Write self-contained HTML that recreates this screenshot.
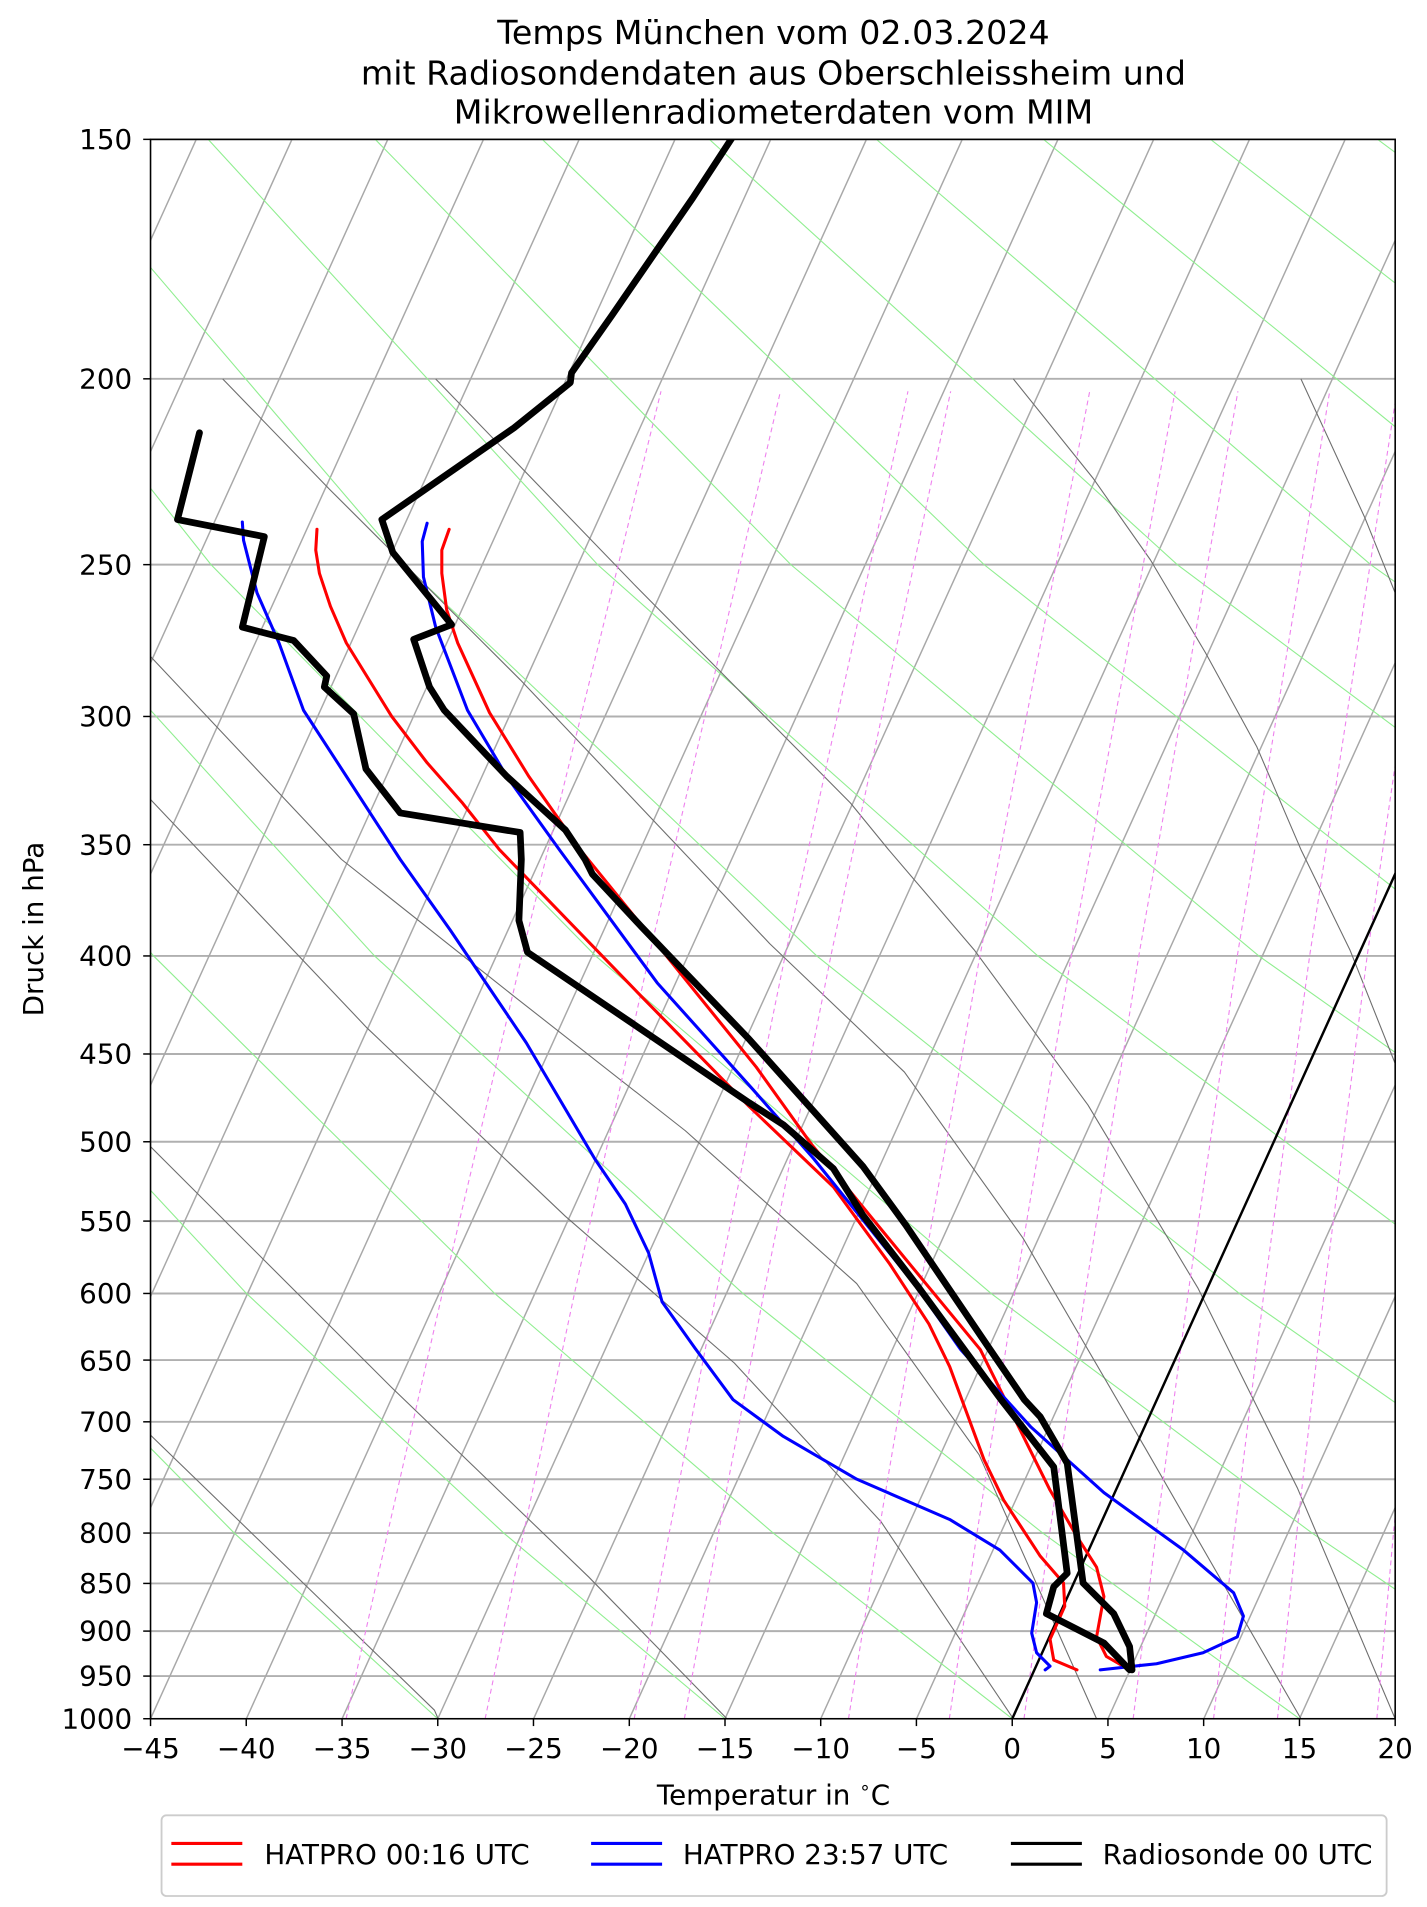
<!DOCTYPE html>
<html><head><meta charset="utf-8"><style>html,body{margin:0;padding:0;background:#fff}svg{display:block}</style></head>
<body>
<svg xmlns="http://www.w3.org/2000/svg" width="1427" height="1907" viewBox="0 0 1166 1560" preserveAspectRatio="none" font-family="DejaVu Sans, Liberation Sans, sans-serif">
<defs><clipPath id="c"><rect x="123" y="114" width="1017" height="1292"/></clipPath></defs>
<rect width="1166" height="1560" fill="#fff"/>
<g clip-path="url(#c)" fill="none">
<g stroke="#b0b0b0" stroke-width="1.6">
<line x1="123" x2="1140" y1="114" y2="114"/><line x1="123" x2="1140" y1="309.9" y2="309.9"/><line x1="123" x2="1140" y1="461.9" y2="461.9"/><line x1="123" x2="1140" y1="586.1" y2="586.1"/><line x1="123" x2="1140" y1="691" y2="691"/><line x1="123" x2="1140" y1="782" y2="782"/><line x1="123" x2="1140" y1="862.2" y2="862.2"/><line x1="123" x2="1140" y1="934" y2="934"/><line x1="123" x2="1140" y1="998.9" y2="998.9"/><line x1="123" x2="1140" y1="1058.1" y2="1058.1"/><line x1="123" x2="1140" y1="1112.6" y2="1112.6"/><line x1="123" x2="1140" y1="1163.1" y2="1163.1"/><line x1="123" x2="1140" y1="1210.1" y2="1210.1"/><line x1="123" x2="1140" y1="1254.1" y2="1254.1"/><line x1="123" x2="1140" y1="1295.3" y2="1295.3"/><line x1="123" x2="1140" y1="1334.3" y2="1334.3"/><line x1="123" x2="1140" y1="1371.1" y2="1371.1"/>
</g>
<g stroke="#a8a8a8" stroke-width="1.2">
<line x1="-424.6" y1="1406" x2="160.4" y2="114"/><line x1="-346.4" y1="1406" x2="238.6" y2="114"/><line x1="-268.1" y1="1406" x2="316.9" y2="114"/><line x1="-189.9" y1="1406" x2="395.1" y2="114"/><line x1="-111.7" y1="1406" x2="473.3" y2="114"/><line x1="-33.4" y1="1406" x2="551.6" y2="114"/><line x1="44.8" y1="1406" x2="629.8" y2="114"/><line x1="123" y1="1406" x2="708" y2="114"/><line x1="201.3" y1="1406" x2="786.3" y2="114"/><line x1="279.5" y1="1406" x2="864.5" y2="114"/><line x1="357.7" y1="1406" x2="942.7" y2="114"/><line x1="436" y1="1406" x2="1021" y2="114"/><line x1="514.2" y1="1406" x2="1099.2" y2="114"/><line x1="592.4" y1="1406" x2="1177.4" y2="114"/><line x1="670.6" y1="1406" x2="1255.6" y2="114"/><line x1="748.9" y1="1406" x2="1333.9" y2="114"/><line x1="905.3" y1="1406" x2="1490.3" y2="114"/><line x1="983.6" y1="1406" x2="1568.6" y2="114"/><line x1="1061.8" y1="1406" x2="1646.8" y2="114"/><line x1="1140" y1="1406" x2="1725" y2="114"/>
</g>
<g stroke="#90ee90" stroke-width="0.9">
<polyline points="357.7,1406 191.4,1254.1 -1.5,1058.1"/>
<polyline points="592.4,1406 411.6,1254.1 201.4,1058.1 -55.2,782"/>
<polyline points="827.1,1406 631.8,1254.1 404.2,1058.1 125.5,782 -143.4,461.9"/>
<polyline points="1061.8,1406 852,1254.1 607,1058.1 306.1,782 14.5,461.9"/>
<polyline points="1296.5,1406 1072.1,1254.1 809.8,1058.1 486.7,782 172.4,461.9 -102.9,114"/>
<polyline points="1531.2,1406 1292.3,1254.1 1012.6,1058.1 667.4,782 330.4,461.9 33.6,114"/>
<polyline points="1765.9,1406 1512.5,1254.1 1215.4,1058.1 848,782 488.3,461.9 170.1,114"/>
<polyline points="1732.7,1254.1 1418.2,1058.1 1028.6,782 646.2,461.9 306.6,114"/>
<polyline points="1621.1,1058.1 1209.2,782 804.1,461.9 443.1,114"/>
<polyline points="1823.9,1058.1 1389.8,782 962,461.9 579.6,114"/>
<polyline points="1570.5,782 1120,461.9 716.1,114"/>
<polyline points="1751.1,782 1277.9,461.9 852.6,114"/>
<polyline points="1931.7,782 1435.8,461.9 989.1,114"/>
<polyline points="1593.7,461.9 1125.6,114"/>
</g>
<g stroke="#6e6e6e" stroke-width="0.9" stroke-linejoin="round">
<polyline points="123,1174 355,1399 358,1406"/>
<polyline points="123,938 320,1135 481,1290 594,1406"/>
<polyline points="123,654 300,841 462,995 600,1115 720,1245 828,1406"/>
<polyline points="123,537 279,703 420,815 560,925 700,1050 800,1190 896,1406"/>
<polyline points="182,310 269,400 425,556 564,703 629,772 739,877 836,1013 936,1185 1063,1406"/>
<polyline points="356,310 520,480 695,657 726,695 796,777 889,904 979,1054 1060,1217 1140,1406"/>
<polyline points="828,310 893,391 940,458 985,534 1027,611 1063,695 1103,777 1140,870"/>
<polyline points="1063,310 1115,423 1140,485"/>
</g>
<g stroke="#ee82ee" stroke-width="0.9" stroke-dasharray="4,3">
<polyline points="282.8,1406 316.7,1254.1 361.4,1058.1 426.4,782 540.1,320.1"/>
<polyline points="396.4,1406 427.8,1254.1 469.4,1058.1 530.4,782 637.7,320.1"/>
<polyline points="518.2,1406 546.8,1254.1 585.2,1058.1 641.5,782 741.9,320.1"/>
<polyline points="559.2,1406 587,1254.1 624.1,1058.1 678.9,782 776.8,320.1"/>
<polyline points="693.3,1406 717.9,1254.1 751,1058.1 800.7,782 890.4,320.1"/>
<polyline points="775.7,1406 798.3,1254.1 829,1058.1 875.3,782 960.2,320.1"/>
<polyline points="836.7,1406 857.7,1254.1 886.6,1058.1 930.5,782 1011.5,320.1"/>
<polyline points="925.9,1406 944.7,1254.1 970.8,1058.1 1011,782 1086.5,320.1"/>
<polyline points="991.6,1406 1008.7,1254.1 1032.7,1058.1 1070.1,782 1141.4,320.1"/>
<polyline points="1043.8,1406 1059.6,1254.1 1081.9,1058.1 1117.1,782 1184.9,320.1"/>
<polyline points="1125,1406 1138.6,1254.1 1158.3,1058.1"/>
</g>
<line x1="827.1" y1="1406" x2="1412.1" y2="114" stroke="#000" stroke-width="2"/>
<g stroke-linejoin="round" stroke-linecap="round">
<polyline stroke="#f00" stroke-width="2.5" points="259,433 258,450 261,469 270,496 283,526 320,586 349,624 378,657 408,695 524,815 612,905 681,971 727,1034 759,1083 776,1118 804,1194 820,1227 850,1273 869,1295 870,1314 858,1341 861,1358 880,1366"/>
<polyline stroke="#f00" stroke-width="2.5" points="367,433 361,450 361,469 365,499 374,526 400,583 432,635 474,695 530,764 618,873 663,936 740,1030 801,1104 858,1219 880,1257 896,1282 902,1306 896,1339 904,1355 923,1366"/>
<polyline stroke="#00f" stroke-width="2.5" points="198,427 199,442 210,485 228,526 248,581 283,635 327,703 368,761 430,853 486,948 511,985 530,1025 541,1065 568,1103 599,1145 640,1175 700,1210 776,1243 817,1268 844,1295 847,1311 843,1336 847,1352 858,1363 854,1366"/>
<polyline stroke="#00f" stroke-width="2.5" points="349,428 345,443 346,472 356,513 382,581 414,635 457,695 537,804 615,891 665,948 750,1054 785,1104 842,1167 902,1221 967,1268 1008,1303 1016,1322 1011,1339 983,1352 945,1361 899,1366"/>
<polyline stroke="#000" stroke-width="5.5" points="598,113 566,162 535,207 500,258 467,305 466,313 420,350 312,425 321,452 369,511 338,523 351,562 363,581 414,635 462,679 478,703 484,715 524,758 612,850 705,954 740,1002 809,1104 837,1145 850,1159 872,1197 885,1295 910,1320 923,1347 925,1366"/>
<polyline stroke="#000" stroke-width="5.5" points="163,354 145,425 216,439 198,513 240,524 267,553 265,562 289,584 299,629 327,665 425,681 426,703 424,753 431,779 515,836 612,902 640,920 681,956 705,994 749,1051 818,1145 861,1200 872,1287 861,1298 855,1320 902,1344 923,1366"/>
</g>
</g>
<rect x="123" y="114" width="1017" height="1292" fill="none" stroke="#000" stroke-width="1.3"/>
<g stroke="#000" stroke-width="1.2">
<line x1="117" x2="123" y1="114" y2="114"/><line x1="117" x2="123" y1="309.9" y2="309.9"/><line x1="117" x2="123" y1="461.9" y2="461.9"/><line x1="117" x2="123" y1="586.1" y2="586.1"/><line x1="117" x2="123" y1="691" y2="691"/><line x1="117" x2="123" y1="782" y2="782"/><line x1="117" x2="123" y1="862.2" y2="862.2"/><line x1="117" x2="123" y1="934" y2="934"/><line x1="117" x2="123" y1="998.9" y2="998.9"/><line x1="117" x2="123" y1="1058.1" y2="1058.1"/><line x1="117" x2="123" y1="1112.6" y2="1112.6"/><line x1="117" x2="123" y1="1163.1" y2="1163.1"/><line x1="117" x2="123" y1="1210.1" y2="1210.1"/><line x1="117" x2="123" y1="1254.1" y2="1254.1"/><line x1="117" x2="123" y1="1295.3" y2="1295.3"/><line x1="117" x2="123" y1="1334.3" y2="1334.3"/><line x1="117" x2="123" y1="1371.1" y2="1371.1"/><line x1="117" x2="123" y1="1406" y2="1406"/>
<line x1="123" x2="123" y1="1406" y2="1412"/><line x1="201.2" x2="201.2" y1="1406" y2="1412"/><line x1="279.5" x2="279.5" y1="1406" y2="1412"/><line x1="357.7" x2="357.7" y1="1406" y2="1412"/><line x1="435.9" x2="435.9" y1="1406" y2="1412"/><line x1="514.2" x2="514.2" y1="1406" y2="1412"/><line x1="592.4" x2="592.4" y1="1406" y2="1412"/><line x1="670.6" x2="670.6" y1="1406" y2="1412"/><line x1="748.8" x2="748.8" y1="1406" y2="1412"/><line x1="827.1" x2="827.1" y1="1406" y2="1412"/><line x1="905.3" x2="905.3" y1="1406" y2="1412"/><line x1="983.5" x2="983.5" y1="1406" y2="1412"/><line x1="1061.8" x2="1061.8" y1="1406" y2="1412"/><line x1="1140" x2="1140" y1="1406" y2="1412"/>
</g>
<g font-size="22.7" text-anchor="end">
<text x="108" y="122">150</text><text x="108" y="318">200</text><text x="108" y="470">250</text><text x="108" y="594">300</text><text x="108" y="699">350</text><text x="108" y="790">400</text><text x="108" y="870">450</text><text x="108" y="942">500</text><text x="108" y="1007">550</text><text x="108" y="1066">600</text><text x="108" y="1121">650</text><text x="108" y="1171">700</text><text x="108" y="1218">750</text><text x="108" y="1262">800</text><text x="108" y="1303">850</text><text x="108" y="1342">900</text><text x="108" y="1379">950</text><text x="108" y="1414">1000</text>
</g>
<g font-size="22.7" text-anchor="middle">
<text x="123" y="1438">−45</text><text x="201.2" y="1438">−40</text><text x="279.5" y="1438">−35</text><text x="357.7" y="1438">−30</text><text x="435.9" y="1438">−25</text><text x="514.2" y="1438">−20</text><text x="592.4" y="1438">−15</text><text x="670.6" y="1438">−10</text><text x="748.8" y="1438">−5</text><text x="827.1" y="1438">0</text><text x="905.3" y="1438">5</text><text x="983.5" y="1438">10</text><text x="1061.8" y="1438">15</text><text x="1140" y="1438">20</text>
</g>
<text x="632" y="36" font-size="27.2" text-anchor="middle">Temps München vom 02.03.2024</text>
<text x="632" y="69" font-size="27.2" text-anchor="middle">mit Radiosondendaten aus Oberschleissheim und</text>
<text x="632" y="101" font-size="27.2" text-anchor="middle">Mikrowellenradiometerdaten vom MIM</text>
<text x="632" y="1476" font-size="22.7" text-anchor="middle">Temperatur in <tspan font-size="15" dy="-9">∘</tspan><tspan dy="9">C</tspan></text>
<text transform="translate(35,760) rotate(-90)" font-size="22.7" text-anchor="middle">Druck in hPa</text>
<rect x="132" y="1485" width="1001" height="66" rx="4" fill="#fff" stroke="#cccccc" stroke-width="1.5"/>
<g stroke-width="2.5">
<line x1="140" y1="1508" x2="198" y2="1508" stroke="#f00"/><line x1="140" y1="1525" x2="198" y2="1525" stroke="#f00"/>
<line x1="483" y1="1508" x2="541" y2="1508" stroke="#00f"/><line x1="483" y1="1525" x2="541" y2="1525" stroke="#00f"/>
<line x1="826" y1="1508" x2="884" y2="1508" stroke="#000"/><line x1="826" y1="1525" x2="884" y2="1525" stroke="#000"/>
</g>
<g font-size="22.7">
<text x="216" y="1525">HATPRO 00:16 UTC</text>
<text x="558" y="1525">HATPRO 23:57 UTC</text>
<text x="901" y="1525">Radiosonde 00 UTC</text>
</g>
</svg>
</body></html>
